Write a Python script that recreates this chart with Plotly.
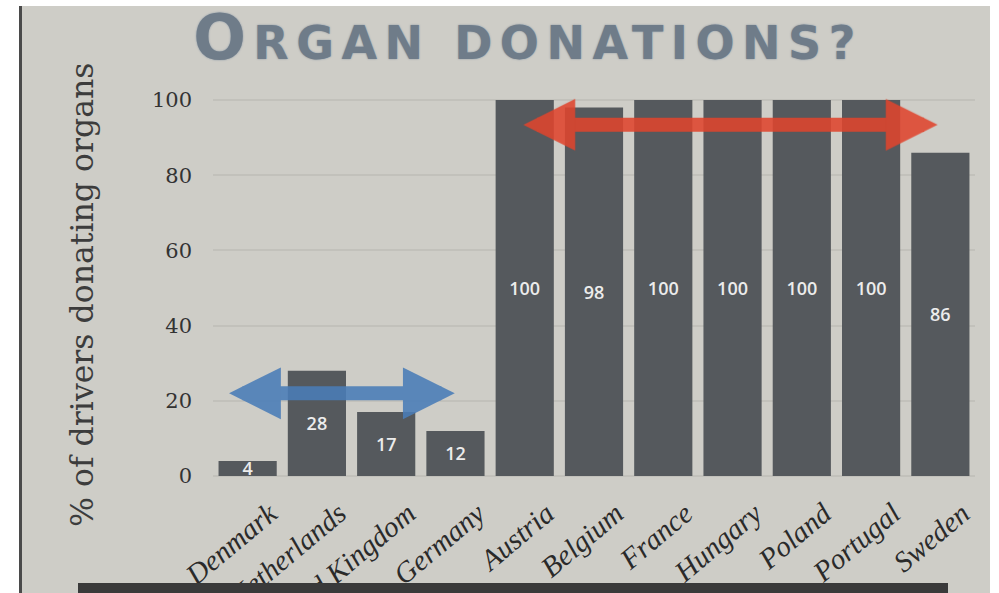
import plotly.graph_objects as go

# ---- data ----
countries = ["Denmark", "Netherlands", "United Kingdom", "Germany", "Austria",
             "Belgium", "France", "Hungary", "Poland", "Portugal", "Sweden"]
donation_pct = [4, 28, 17, 12, 100, 98, 100, 100, 100, 100, 86]
y_ticks = [0, 20, 40, 60, 80, 100]

# arrow spans (category index range, value level)
blue_span = (-0.29, 2.99, 22)
red_span = (3.96, 9.96, 93.4)

W, H = 999, 593
ML, MR, MT, MB = 213, 24, 77, 113
PW, PH = W - ML - MR, H - MT - MB


def pxx(px):
    return (px - ML) / PW


def pxy(py):
    return (H - MB - py) / PH


BG = "#cecdc7"

fig = go.Figure()
fig.add_trace(go.Bar(
    x=countries, y=donation_pct,
    marker=dict(color="#55595d", line=dict(width=0)),
    texttemplate="%{y}", textposition="inside", insidetextanchor="middle",
    textangle=0,
    textfont=dict(family="Open Sans", size=18, color="#ececec", weight=600),
    hoverinfo="skip",
))

shapes = [
    # slide background
    dict(type="rect", xref="paper", yref="paper", x0=pxx(20), x1=pxx(990),
         y0=pxy(H + 5), y1=pxy(6), fillcolor=BG, line=dict(width=0), layer="below"),
    # left dark edge
    dict(type="line", xref="paper", yref="paper", x0=pxx(20.5), x1=pxx(20.5),
         y0=pxy(H + 5), y1=pxy(6), line=dict(color="#4a4a4a", width=3), layer="below"),
    # bottom dark bar
    dict(type="rect", xref="paper", yref="paper", x0=pxx(78), x1=pxx(948),
         y0=pxy(H + 5), y1=pxy(583), fillcolor="#3a3a3a", line=dict(width=0), layer="above"),
]

annotations = [
    dict(text="% of drivers donating organs", xref="paper", yref="paper",
         x=pxx(82), y=pxy(295), textangle=-90, showarrow=False,
         xanchor="center", yanchor="middle",
         font=dict(family="DejaVu Serif", size=31.5, color="#3c3c3c")),
]
for (x0, x1, yv), col in [(blue_span, "#4a7db8"), (red_span, "#e0452e")]:
    annotations.append(dict(
        text="", x=x1, y=yv, ax=x0, ay=yv, xref="x", yref="y", axref="x", ayref="y",
        showarrow=True, arrowhead=2, arrowside="end+start", arrowwidth=14,
        arrowsize=0.74, arrowcolor=col, opacity=0.88, standoff=0, startstandoff=0,
    ))

fig.update_layout(
    template="none",
    width=W, height=H,
    margin=dict(l=ML, r=MR, t=MT, b=MB, autoexpand=False),
    paper_bgcolor="white", plot_bgcolor=BG,
    bargap=0.16,
    showlegend=False,
    uniformtext=dict(minsize=18, mode="show"),
    title=dict(
        text="<span style='letter-spacing:7.5px'><span style='font-size:62px'>O</span>RGAN DONATIONS?</span>",
        xref="container", yref="container", x=528 / W, y=1 - 43 / H,
        xanchor="center", yanchor="middle",
        font=dict(family="DejaVu Sans", size=46, color="#6f7c89", weight="bold",
                  shadow="0 0 2px #8090a0"),
    ),
    xaxis=dict(range=[-0.5, 10.5], tickangle=-40, showgrid=False, zeroline=False,
               showline=False, ticks="", automargin=False,
               ticklabelshift=22, ticklabelstandoff=10,
               tickfont=dict(family="Liberation Serif", size=29, style="italic",
                             color="#2a2a2a")),
    yaxis=dict(range=[-1.064, 106.12], tickvals=y_ticks, showgrid=True,
               gridcolor="#c2c1bb", gridwidth=1.5, zeroline=False, showline=False,
               ticks="", ticklabelstandoff=20, automargin=False,
               tickfont=dict(family="DejaVu Serif", size=21, color="#333333")),
    shapes=shapes,
    annotations=annotations,
)

fig.write_html("out.html", config={"displayModeBar": False},
               post_script="document.body.style.margin='0px';")
